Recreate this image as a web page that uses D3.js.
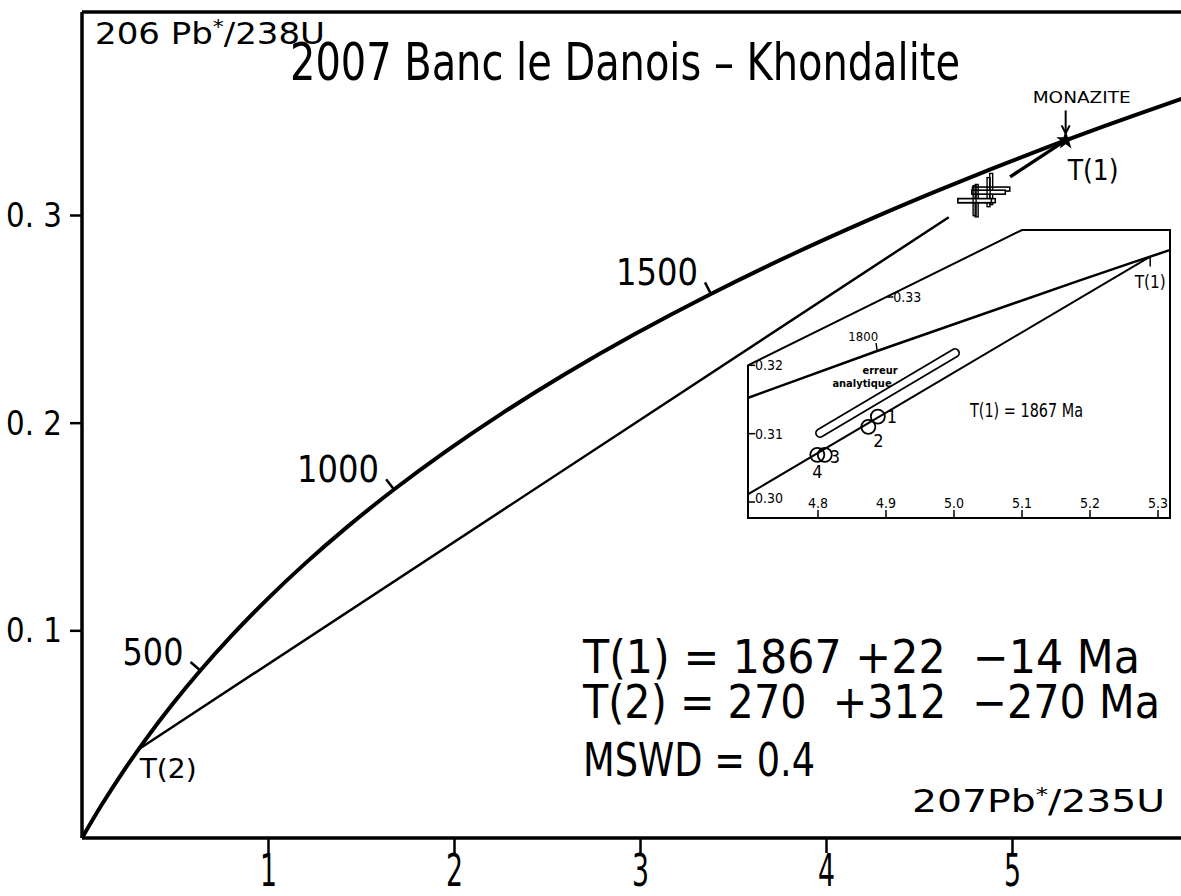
<!DOCTYPE html>
<html><head><meta charset="utf-8">
<script src="https://cdn.jsdelivr.net/npm/d3@7"></script>
<style>
body{margin:0;background:#fff}
text{font-family:"DejaVu Sans Condensed","Liberation Sans Narrow","DejaVu Sans",sans-serif;fill:#000;white-space:pre}
</style></head><body>
<script>
const width = 1181, height = 896;

// concordia curve: age (Ma), 207Pb*/235U, 206Pb*/238U
const concAge = [0,100,200,300,400,500,600,700,800,900,1000,1100,1200,1300,1400,1500,1600,1700,1750,1800,1850,1900,1960,1980];
const concX = [0,0.1035,0.2177,0.3437,0.4828,0.6363,0.8056,0.9925,1.1987,1.4263,1.6774,1.9545,2.2603,2.5977,2.9701,3.3810,3.8344,4.3348,4.6040,4.8869,5.1841,5.4962,5.8916,6.0287];
const concY = [0,0.01563,0.03151,0.04764,0.06402,0.08065,0.09754,0.11470,0.13213,0.14983,0.16780,0.18606,0.20460,0.22344,0.24256,0.26199,0.28172,0.30175,0.31189,0.32210,0.33240,0.34277,0.35532,0.35954];
const ageMarks = [500, 1000, 1500];

// intercepts
const T1 = [5.2885, 0.33592];
const T2 = [0.3046, 0.04277];

// analyses
const ptLabel = ["1", "2", "3", "4"];
const ptX = [4.888, 4.874, 4.810, 4.799];
const ptY = [0.3125, 0.3110, 0.3069, 0.3069];
const errX = [0.10, 0.09, 0.10, 0.09];
const errY = [0.0075, 0.007, 0.0078, 0.0072];
const errBar = [[4.803, 0.3101], [5.0015, 0.3218]];

const xTicks = [1, 2, 3, 4, 5];
const yTicks = [0.1, 0.2, 0.3];
const insetXTicks = [4.8, 4.9, 5.0, 5.1, 5.2, 5.3];
const insetYTicks = [0.30, 0.31, 0.32, 0.33];

const conc = concAge.map((a, i) => ({age: a, x: concX[i], y: concY[i]}));

const svg = d3.select("body").append("svg")
  .attr("width", width).attr("height", height);

const x = d3.scaleLinear([0, 5], [82, 1012]);
const y = d3.scaleLinear([0, 0.3], [838, 215]);

// frame
svg.append("line").attr("x1", 82).attr("x2", width).attr("y1", 12).attr("y2", 12)
  .attr("stroke", "#000").attr("stroke-width", 3.5);

const xAxis = svg.append("g").attr("transform", "translate(0,838)")
  .call(d3.axisBottom(x).tickValues(xTicks).tickSize(15).tickFormat(d3.format("d")));
xAxis.select(".domain").attr("d", "M82,0H" + width);
const yAxis = svg.append("g").attr("transform", "translate(82,0)")
  .call(d3.axisLeft(y).tickValues(yTicks).tickSize(12).tickFormat(d3.format(".1f")));
yAxis.select(".domain").attr("d", "M0,12V838");
svg.selectAll(".domain").attr("stroke", "#000").attr("stroke-width", 3.5);
svg.selectAll(".tick line").attr("stroke", "#000").attr("stroke-width", 2.5);
xAxis.selectAll(".tick text").attr("y", 17).attr("dy", "0.71em").attr("font-size", 44)
  .attr("textLength", 17).attr("lengthAdjust", "spacingAndGlyphs")
  .style("font-family", "'DejaVu Sans Condensed','DejaVu Sans',sans-serif");
yAxis.selectAll(".tick text").attr("x", -20).attr("dy", "0.35em").attr("font-size", 33)
  .attr("textLength", 56).attr("lengthAdjust", "spacingAndGlyphs")
  .text(d => d3.format(".1f")(d).replace(".", ". "))
  .style("font-family", "'DejaVu Sans',sans-serif");

// concordia main
const line = d3.line().x(d => x(d.x)).y(d => y(d.y)).curve(d3.curveCatmullRom);
svg.append("path").datum(conc).attr("d", line)
  .attr("fill", "none").attr("stroke", "#000").attr("stroke-width", 4);

// age marks
ageMarks.forEach(a => {
  const i = concAge.indexOf(a);
  const p = [x(concX[i]), y(concY[i])];
  const dx = x(concX[i + 1]) - x(concX[i - 1]), dy = y(concY[i + 1]) - y(concY[i - 1]);
  const n = Math.hypot(dx, dy);
  const q = [p[0] + dy / n * 13, p[1] - dx / n * 13];
  svg.append("line").attr("x1", p[0]).attr("y1", p[1]).attr("x2", q[0]).attr("y2", q[1])
    .attr("stroke", "#000").attr("stroke-width", 2.5);
  svg.append("text").attr("x", q[0] - 7).attr("y", q[1] + 3).attr("text-anchor", "end")
    .attr("font-size", 38).attr("textLength", a < 1000 ? 61 : 82).attr("lengthAdjust", "spacingAndGlyphs")
    .style("font-family", "'DejaVu Sans',sans-serif")
    .text(a);
});

// discordia (main) with gap around the analyses
const dLine = xv => [xv, T2[1] + (T1[1] - T2[1]) * (xv - T2[0]) / (T1[0] - T2[0])];
[[T2[0], 4.66], [4.99, T1[0]]].forEach(seg => {
  const a = dLine(seg[0]), b = dLine(seg[1]);
  svg.append("line").attr("x1", x(a[0])).attr("y1", y(a[1])).attr("x2", x(b[0])).attr("y2", y(b[1]))
    .attr("stroke", "#000").attr("stroke-width", seg[0] === T2[0] ? 2.5 : 3.5);
});

// error crosses
const crosses = svg.append("g");
ptX.forEach((px, i) => {
  const cx = x(px), cy = y(ptY[i]);
  const hw = x(px + errX[i]) - cx, hh = cy - y(ptY[i] + errY[i]);
  crosses.append("rect").attr("x", cx - hw).attr("y", cy - 2).attr("width", 2 * hw).attr("height", 4)
    .attr("fill", "#fff").attr("stroke", "#000").attr("stroke-width", 1.6);
  crosses.append("rect").attr("x", cx - 1.5).attr("y", cy - hh).attr("width", 3).attr("height", 2 * hh)
    .attr("fill", "none").attr("stroke", "#000").attr("stroke-width", 1.4);
});

// T(1) star and monazite
const t1p = [x(T1[0]), y(T1[1])];
svg.append("path").attr("d", d3.symbol(d3.symbolStar, 110)())
  .attr("transform", `translate(${t1p[0]},${t1p[1]})`).attr("fill", "#000");
svg.append("line").attr("x1", t1p[0]).attr("x2", t1p[0]).attr("y1", t1p[1] - 30).attr("y2", t1p[1] - 9)
  .attr("stroke", "#000").attr("stroke-width", 2);
svg.append("path").attr("d", `M${t1p[0] - 4},${t1p[1] - 15}L${t1p[0]},${t1p[1] - 7}L${t1p[0] + 4},${t1p[1] - 15}`)
  .attr("fill", "none").attr("stroke", "#000").attr("stroke-width", 2);
svg.append("text").attr("x", t1p[0] - 33).attr("y", t1p[1] - 37).attr("font-size", 15)
  .attr("textLength", 98).attr("lengthAdjust", "spacingAndGlyphs")
  .style("font-family", "'DejaVu Sans',sans-serif").text("MONAZITE");
svg.append("text").attr("x", t1p[0] + 2).attr("y", t1p[1] + 40).attr("font-size", 28)
  .attr("textLength", 51).attr("lengthAdjust", "spacingAndGlyphs")
  .style("font-family", "'DejaVu Sans',sans-serif").text("T(1)");

const t2p = [x(T2[0]), y(T2[1])];
svg.append("text").attr("x", t2p[0] + 1).attr("y", t2p[1] + 29).attr("font-size", 26)
  .attr("textLength", 57).attr("lengthAdjust", "spacingAndGlyphs")
  .style("font-family", "'DejaVu Sans',sans-serif").text("T(2)");

// ---------- inset ----------
const ix = d3.scaleLinear([4.8, 5.3], [818, 1158]);
const iy = d3.scaleLinear([0.30, 0.33], [502, 297]);
const ixMin = ix.invert(748), ixMax = ix.invert(1170), iyMin = iy.invert(518), iyMax = iy.invert(230);
const frame = [[ixMin, iyMin], [ixMin, 0.32], [5.1, iyMax], [ixMax, iyMax], [ixMax, iyMin]];
const framePts = frame.map(d => [ix(d[0]), iy(d[1])]);
svg.append("clipPath").attr("id", "inset").append("polygon").attr("points", framePts.join(" "));
svg.append("polygon").attr("points", framePts.join(" "))
  .attr("fill", "#fff").attr("stroke", "#000").attr("stroke-width", 2);

const inset = svg.append("g").attr("clip-path", "url(#inset)");
const iline = d3.line().x(d => ix(d.x)).y(d => iy(d.y)).curve(d3.curveCatmullRom);
inset.append("path").datum(conc.filter(d => d.age >= 1600)).attr("d", iline)
  .attr("fill", "none").attr("stroke", "#000").attr("stroke-width", 2.5);
inset.append("line").attr("x1", ix(T2[0])).attr("y1", iy(T2[1])).attr("x2", ix(T1[0])).attr("y2", iy(T1[1]))
  .attr("stroke", "#000").attr("stroke-width", 2);

// inset ticks
insetXTicks.forEach(v => {
  svg.append("line").attr("x1", ix(v)).attr("x2", ix(v)).attr("y1", 518).attr("y2", 510)
    .attr("stroke", "#000").attr("stroke-width", 1.5);
  svg.append("text").attr("x", ix(v)).attr("y", 508).attr("text-anchor", "middle").attr("font-size", 14)
    .text(v.toFixed(1));
});
insetYTicks.forEach(v => {
  const x0 = v < 0.325 ? ix(ixMin) : ix(5.1) - (iy(v) - iy(iyMax)) * (ix(5.1) - ix(ixMin)) / (iy(0.32) - iy(iyMax));
  svg.append("line").attr("x1", x0).attr("x2", x0 + 7).attr("y1", iy(v)).attr("y2", iy(v))
    .attr("stroke", "#000").attr("stroke-width", 1.5);
  svg.append("text").attr("x", x0 + 7).attr("y", iy(v) + (v === 0.30 ? 1 : 5)).attr("font-size", 14)
    .text(v.toFixed(2));
});

// inset age mark 1800 and T(1)
const i18 = concAge.indexOf(1800);
const p18 = [ix(concX[i18]), iy(concY[i18])];
svg.append("line").attr("x1", p18[0]).attr("y1", p18[1]).attr("x2", p18[0] - 1).attr("y2", p18[1] - 8)
  .attr("stroke", "#000").attr("stroke-width", 1.5);
svg.append("text").attr("x", p18[0] + 1).attr("y", p18[1] - 10).attr("text-anchor", "end").attr("font-size", 13)
  .text("1800");
const it1 = [ix(T1[0]), iy(T1[1])];
svg.append("line").attr("x1", it1[0]).attr("y1", it1[1]).attr("x2", it1[0]).attr("y2", it1[1] + 10)
  .attr("stroke", "#000").attr("stroke-width", 1.5);
svg.append("text").attr("x", it1[0]).attr("y", it1[1] + 31).attr("text-anchor", "middle").attr("font-size", 17)
  .text("T(1)");
svg.append("text").attr("x", 970).attr("y", 417).attr("font-size", 19)
  .attr("textLength", 113).attr("lengthAdjust", "spacingAndGlyphs").text("T(1) = 1867 Ma");

// analytical error bar
const eb = errBar.map(d => [ix(d[0]), iy(d[1])]);
svg.append("line").attr("x1", eb[0][0]).attr("y1", eb[0][1]).attr("x2", eb[1][0]).attr("y2", eb[1][1])
  .attr("stroke", "#000").attr("stroke-width", 10).attr("stroke-linecap", "round");
svg.append("line").attr("x1", eb[0][0]).attr("y1", eb[0][1]).attr("x2", eb[1][0]).attr("y2", eb[1][1])
  .attr("stroke", "#fff").attr("stroke-width", 6.5).attr("stroke-linecap", "round");
svg.append("text").attr("x", 880).attr("y", 374).attr("text-anchor", "middle").attr("font-size", 11)
  .style("font-weight", "bold").text("erreur");
svg.append("text").attr("x", 862).attr("y", 387).attr("text-anchor", "middle").attr("font-size", 11)
  .style("font-weight", "bold").text("analytique");

// inset analyses
const lblOff = [[14, 6], [10, 20], [10, 8], [0, 23]];
ptX.forEach((px, i) => {
  svg.append("circle").attr("cx", ix(px)).attr("cy", iy(ptY[i])).attr("r", 7)
    .attr("fill", "none").attr("stroke", "#000").attr("stroke-width", 1.8);
  svg.append("text").attr("x", ix(px) + lblOff[i][0]).attr("y", iy(ptY[i]) + lblOff[i][1])
    .attr("text-anchor", "middle").attr("font-size", 18).text(ptLabel[i]);
});

// ---------- labels ----------
const lab = svg.append("text").attr("x", 95).attr("y", 44).attr("font-size", 31)
  .attr("textLength", 230).attr("lengthAdjust", "spacingAndGlyphs")
  .style("font-family", "'DejaVu Sans',sans-serif");
lab.append("tspan").text("206 Pb");
lab.append("tspan").attr("dy", -11).attr("font-size", 20).text("*");
lab.append("tspan").attr("dy", 11).text("/238U");

svg.append("text").attr("x", 290).attr("y", 80).attr("font-size", 52)
  .attr("textLength", 670).attr("lengthAdjust", "spacingAndGlyphs")
  .text("2007 Banc le Danois \u2013 Khondalite");

const lab2 = svg.append("text").attr("x", 912).attr("y", 812).attr("font-size", 32)
  .attr("textLength", 253).attr("lengthAdjust", "spacingAndGlyphs")
  .style("font-family", "'DejaVu Sans',sans-serif");
lab2.append("tspan").text("207Pb");
lab2.append("tspan").attr("dy", -11).attr("font-size", 20).text("*");
lab2.append("tspan").attr("dy", 11).text("/235U");

svg.append("text").attr("x", 583).attr("y", 673).attr("font-size", 46)
  .attr("textLength", 557).attr("lengthAdjust", "spacingAndGlyphs")
  .text("T(1) = 1867 +22  \u221214 Ma");
svg.append("text").attr("x", 583).attr("y", 718).attr("font-size", 46)
  .attr("textLength", 577).attr("lengthAdjust", "spacingAndGlyphs")
  .text("T(2) = 270  +312  \u2212270 Ma");
svg.append("text").attr("x", 583).attr("y", 776).attr("font-size", 46)
  .attr("textLength", 232).attr("lengthAdjust", "spacingAndGlyphs")
  .text("MSWD = 0.4");
</script>
</body></html>
